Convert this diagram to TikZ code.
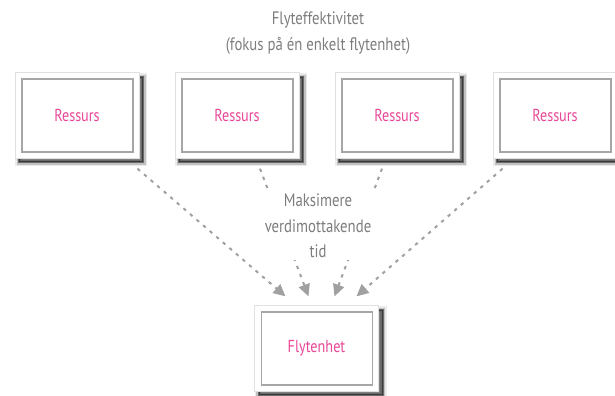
\documentclass[tikz,border=0pt]{standalone}
\usepackage{fontspec}
\setmainfont{PT Sans}[FakeStretch=0.82]
\usetikzlibrary{arrows.meta,calc}

\definecolor{resspink}{RGB}{232,72,152}
\definecolor{notegray}{RGB}{125,125,125}
\definecolor{flowgray}{RGB}{160,160,160}

\tikzset{every picture/.style={line width=0.75pt}}
\tikzset{
  softshadow/.style={
    preaction={draw=black, line width=6pt, opacity=.08, transform canvas={shift={(3.2pt,-3.2pt)}}},
    preaction={draw=black, line width=3.5pt, opacity=.18, transform canvas={shift={(3.2pt,-3.2pt)}}},
    preaction={draw=black, line width=1.5pt, fill=black, opacity=.45, transform canvas={shift={(3.2pt,-3.2pt)}}}},
  unitbox/.style={softshadow, draw=black!12, fill=white, minimum width=93pt, minimum height=64pt, inner sep=0pt,
    text=resspink, font=\fontsize{13}{15}\selectfont,
    path picture={\draw[black!35, line width=1.1pt]
      ([shift={(7,-6)}]path picture bounding box.north west) rectangle ([shift={(-6,6)}]path picture bounding box.south east);}},
  flow/.style={draw=flowgray, line width=1.5pt, dash pattern=on 2.5pt off 4pt,
    -{Triangle[length=9pt,width=8.5pt]}},
  note/.style={text=notegray, align=center, font=\fontsize{13.5}{19}\selectfont}
}

\begin{document}
\begin{tikzpicture}[x=0.75pt,y=0.75pt,yscale=-1,xscale=1]
\useasboundingbox (0,0) rectangle (615,396);

% Title
\node[note] (title) at (318,33) {Flyteffektivitet\\(fokus på én enkelt flytenhet)};

% Resources
\node[unitbox] (r1) at (77,115.5) {Ressurs};
\node[unitbox] (r2) at (237,115.5) {Ressurs};
\node[unitbox] (r3) at (397,115.5) {Ressurs};
\node[unitbox] (r4) at (555,115.5) {Ressurs};

% Flow unit
\node[unitbox] (fh) at (316.5,348.5) {Flytenhet};

% Flows
\draw[flow] ($(r1.south east)+(-2,10)$) -- ($(fh.north)+(-31,-9)$);
\draw[flow] ($(r2.south)+(23,10)$) -- ($(fh.north)+(-8,-9)$);
\draw[flow] ($(r3.south)+(-15,10)$) -- ($(fh.north)+(18,-9)$);
\draw[flow] ($(r4.south west)+(10,10)$) -- ($(fh.north)+(40,-9)$);

% Gain
\node[note, fill=white, inner sep=2pt] (gain) at (318,226) {Maksimere\\verdimottakende\\tid};

\end{tikzpicture}
\end{document}
